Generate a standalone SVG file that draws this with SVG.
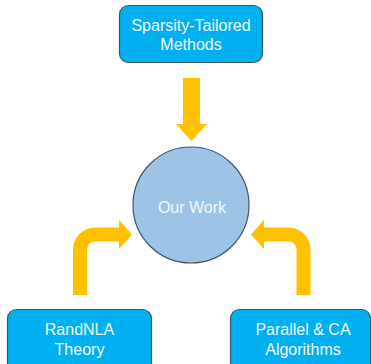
<svg xmlns="http://www.w3.org/2000/svg" width="371" height="364" viewBox="0 0 371 364">
<style>
.box{fill:#00B0F0;stroke:#3B556F;stroke-width:1.2}
.lbl{font-family:"Liberation Sans",Arial,sans-serif;font-size:16px;fill:#F2F8FC;text-anchor:middle}
.arr{fill:#FFC000}
</style>
<rect width="371" height="364" fill="#FFFFFF"/>
<g id="connectors">
<path class="arr" d="M183,78 H200 V124 H207 L191.5,141 L176,124 H183 Z"/>
<path class="arr" d="M73,295 V249.5 A22,22 0 0 1 95,227.5 H119 V220 L132,234.5 L119,249 V241.5 H95 A8,8 0 0 0 87,249.5 V295 Z"/>
<path class="arr" d="M310.5,295 V249.5 A22,22 0 0 0 288.5,227.5 H264 V220 L251,234.5 L264,249 V241.5 H288.5 A8,8 0 0 1 296.5,249.5 V295 Z"/>
</g>
<g id="sparsity">
<rect class="box" x="119.5" y="5.5" width="143" height="57" rx="9"/>
<text class="lbl" x="191" y="31">Sparsity-Tailored</text>
<text class="lbl" x="191" y="50">Methods</text>
</g>
<g id="ourwork">
<circle cx="191" cy="205" r="58" fill="#9DC3E6" stroke="#44546A" stroke-width="1.2"/>
<text class="lbl" x="192" y="213">Our Work</text>
</g>
<g id="randnla">
<rect class="box" x="7.5" y="309.5" width="144" height="70" rx="9"/>
<text class="lbl" x="79.5" y="335">RandNLA</text>
<text class="lbl" x="79.5" y="355">Theory</text>
</g>
<g id="parallel">
<rect class="box" x="230.5" y="309.5" width="140" height="70" rx="9"/>
<text class="lbl" x="303" y="335">Parallel &amp; CA</text>
<text class="lbl" x="303" y="355">Algorithms</text>
</g>
</svg>
